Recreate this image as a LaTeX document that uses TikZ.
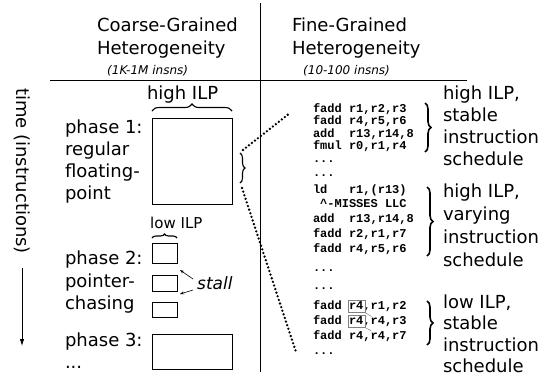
\documentclass[tikz,border=0pt]{standalone}
\usepackage{fontspec}
\setmainfont{DejaVu Sans}
\newfontfamily\codefont{Liberation Mono}
\usetikzlibrary{decorations.pathreplacing,arrows.meta}
\begin{document}
\begin{tikzpicture}[x=1pt,y=-1pt,
  lbl/.style={font=\fontsize{18}{22}\selectfont, inner sep=0, outer sep=0, anchor=base west},
  small/.style={font=\fontsize{12}{14}\selectfont\itshape, inner sep=0, anchor=base west},
  code/.style={font=\codefont\bfseries\fontsize{12}{14}\selectfont, inner sep=0, outer sep=0, anchor=base west},
  bx/.style={draw, line width=0.8pt},
  brc/.style={decorate, decoration={brace, amplitude=#1}, line width=1.1pt},
  bigbrc/.style={decorate, decoration={brace, amplitude=6pt}, line width=1.6pt},
  dots/.style={line width=2.6pt, dash pattern=on 0pt off 3.8pt, line cap=round},
  rule/.style={line width=0.8pt},
  r4line/.style={draw=gray, line width=0.5pt}]
\useasboundingbox (0,0) rectangle (549,381);

% rules
\coordinate (vt) at (260,3);
\coordinate (vb) at (260,372);
\coordinate (hl) at (50,80);
\coordinate (hr) at (467,80);
\draw[rule] (vt) -- (vb);
\draw[rule] (hl) -- (hr);

% titles
\node[lbl] (cg1) at (97,31.5) {Coarse-Grained};
\node[lbl] (cg2) at (97,54.5) {Heterogeneity};
\node[small] (cg3) at (107,74.5) {(1K-1M insns)};
\node[lbl] (fg1) at (292,31.5) {Fine-Grained};
\node[lbl] (fg2) at (292,54.5) {Heterogeneity};
\node[small] (fg3) at (303,74.5) {(10-100 insns)};

% time axis
\node[font=\fontsize{18}{22}\selectfont, rotate=-90, inner sep=0] (time) at (22,171) {time (instructions)};
\coordinate (ta) at (22,268);
\coordinate (tb) at (22,346);
\draw[line width=0.8pt, -{Latex[length=7pt,width=4.5pt]}] (ta) -- (tb);

% phase 1
\node[lbl] (hilp) at (147,99.5) {high ILP};
\coordinate (hb1) at (152,111);
\coordinate (hb2) at (232,111);
\draw[brc=7pt] (hb1) -- (hb2);
\draw[bx] (152,118) rectangle (232,204);
\node[lbl] (p1a) at (65,133.5) {phase 1:};
\node[lbl] (p1b) at (65,155.5) {regular};
\node[lbl] (p1c) at (65,177.5) {floating-};
\node[lbl] (p1d) at (65,199.5) {point};

% small brace and dotted zoom lines
\coordinate (sb1) at (240,153);
\coordinate (sb2) at (240,183);
\draw[brc=5pt] (sb1) -- (sb2);
\coordinate (dst) at (243,150);
\coordinate (dsb) at (242,188);
\coordinate (dt) at (290,113);
\coordinate (db) at (296,352);
\draw[dots] (dst) -- (dt);
\draw[dots] (dsb) -- (db);

% phase 2
\node[font=\fontsize{15}{18}\selectfont, inner sep=0, anchor=base west] (lilp) at (150,228.5) {low ILP};
\coordinate (lb1) at (152,238);
\coordinate (lb2) at (177,238);
\draw[brc=4pt] (lb1) -- (lb2);
\draw[bx] (152,243) rectangle (177,263);
\draw[bx] (152,275) rectangle (177,291);
\draw[bx] (152,302) rectangle (177,317);
\node[lbl] (p2a) at (65,264.5) {phase 2:};
\node[lbl] (p2b) at (65,287) {pointer-};
\node[lbl] (p2c) at (65,309.5) {chasing};
\node[font=\fontsize{17}{20}\selectfont\itshape, inner sep=0, anchor=base west] (stall) at (197,289.5) {stall};
\coordinate (gab) at (180,270);
\coordinate (gbc) at (180,294);
\coordinate (s1) at (193,279);
\coordinate (s2) at (193,290);
\draw[line width=0.6pt, -{Stealth[length=4pt,width=3pt]}] (s1) -- (gab);
\draw[line width=0.6pt, -{Stealth[length=4pt,width=3pt]}] (s2) -- (gbc);

% phase 3
\draw[bx] (152,334) rectangle (232,369);
\node[lbl] (p3a) at (65,346.5) {phase 3:};
\node[lbl] (p3b) at (65,368) {...};

% code
\node[code] (c1) at (313,112) {fadd~r1,r2,r3};
\node[code] (c2) at (313,124.5) {fadd~r4,r5,r6};
\node[code] (c3) at (313,137) {add~~r13,r14,8};
\node[code] (c4) at (313,149.5) {fmul~r0,r1,r4};
\node[code] (c5) at (313,162) {...};
\node[code] (c6) at (313,176) {...};
\node[code] (c7) at (313,193.5) {ld~~~r1,(r13)};
\node[code] (c8) at (313,207.5) {~\textasciicircum-MISSES~LLC};
\node[code] (c9) at (313,222.5) {add~~r13,r14,8};
\node[code] (c10) at (313,237.5) {fadd~r2,r1,r7};
\node[code] (c11) at (313,252.5) {fadd~r4,r5,r6};
\node[code] (c12) at (313,271) {...};
\node[code] (c13) at (313,289) {...};
\node[code] (c14) at (313,309.5) {fadd~\null};
\node[code] (r4a) at (c14.base east) {r4};
\node[code] (c14b) at (r4a.base east) {,r1,r2};
\node[code] (c15) at (313,324.5) {fadd~\null};
\node[code] (r4b) at (c15.base east) {r4};
\node[code] (c15b) at (r4b.base east) {,r4,r3};
\node[code] (c16) at (313,339.5) {fadd~r4,r4,r7};
\node[code] (c17) at (313,354) {...};
\draw[r4line] ([xshift=-0.8pt,yshift=-3pt]r4a.south west) rectangle ([xshift=1.5pt,yshift=1.5pt]r4a.north east);
\draw[r4line] ([xshift=-0.8pt,yshift=-3pt]r4b.south west) rectangle ([xshift=1.5pt,yshift=1.5pt]r4b.north east);
\draw[r4line] ([xshift=1.5pt,yshift=-3pt]r4a.south east) -- ([xshift=8pt,yshift=0pt]c15b.north west);
\draw[r4line] ([xshift=1.5pt,yshift=-3pt]r4b.south east) -- ([xshift=58pt,yshift=0pt]c16.north west);

% right braces
\coordinate (rb1a) at (425,103);
\coordinate (rb1b) at (425,152);
\draw[bigbrc] (rb1a) -- (rb1b);
\coordinate (rb2a) at (427,187);
\coordinate (rb2b) at (427,256);
\draw[bigbrc] (rb2a) -- (rb2b);
\coordinate (rb3a) at (427,301);
\coordinate (rb3b) at (427,345);
\draw[bigbrc] (rb3a) -- (rb3b);

% right labels
\node[lbl] (r1a) at (443,99.5) {high ILP,};
\node[lbl] (r1b) at (443,121.5) {stable};
\node[lbl] (r1c) at (443,143.5) {instruction};
\node[lbl] (r1d) at (443,165.5) {schedule};
\node[lbl] (r2a) at (443,197) {high ILP,};
\node[lbl] (r2b) at (443,220) {varying};
\node[lbl] (r2c) at (443,243) {instruction};
\node[lbl] (r2d) at (443,266) {schedule};
\node[lbl] (r3a) at (443,308.5) {low ILP,};
\node[lbl] (r3b) at (443,329.8) {stable};
\node[lbl] (r3c) at (443,351) {instruction};
\node[lbl] (r3d) at (443,372.4) {schedule};
\end{tikzpicture}
\end{document}
